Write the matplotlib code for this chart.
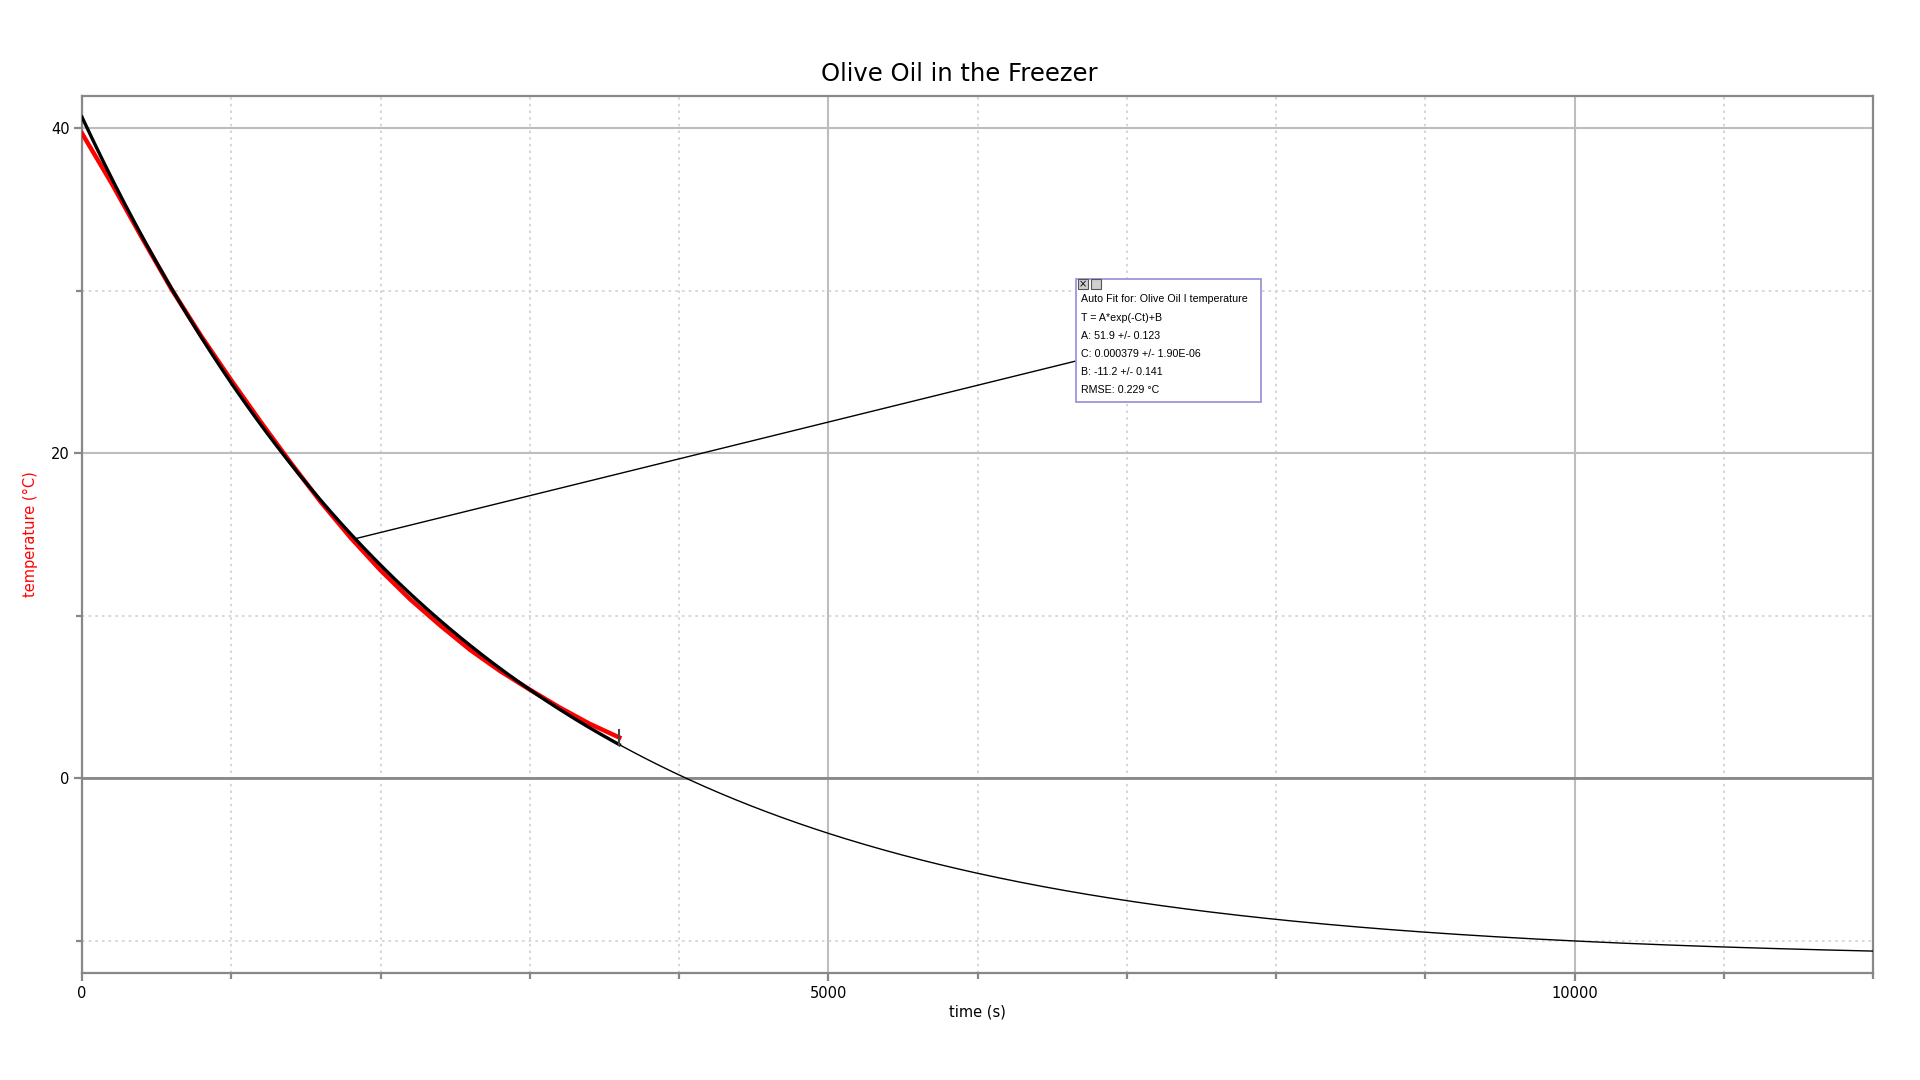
import matplotlib.pyplot as plt
import numpy as np
from matplotlib.patches import Rectangle

time_s = [0, 200, 400, 600, 800, 1000, 1200, 1400, 1600, 1800,
          2000, 2200, 2400, 2600, 2800, 3000, 3200, 3400, 3600]
temp_c = [39.7, 36.6, 33.3, 30.1, 27.2, 24.5, 21.9, 19.4, 17.0, 14.8,
          12.8, 11.0, 9.4, 7.9, 6.6, 5.45, 4.35, 3.35, 2.5]

# auto fit T = A*exp(-Ct)+B
A = 51.9
C = 0.000379
B = -11.2
fit_end = 3600
t_max = 12000
anchor_t = 1830

fit_lines = ["Auto Fit for: Olive Oil I temperature",
             "T = A*exp(-Ct)+B",
             "A: 51.9 +/- 0.123",
             "C: 0.000379 +/- 1.90E-06",
             "B: -11.2 +/- 0.141",
             "RMSE: 0.229 \u00b0C"]


def fit(t):
    return A * np.exp(-C * np.asarray(t, dtype=float)) + B


fig = plt.figure(figsize=(19.2, 10.8), dpi=100)
ax = fig.add_axes([82/1920, 1-973/1080, (1873-82)/1920, (973-96)/1080])

ax.set_xlim(0, t_max)
ax.set_ylim(-12, 42)

# grid
ax.set_xticks([0, 5000, 10000])
ax.set_xticks(np.arange(1000, 12001, 1000), minor=True)
ax.set_yticks([0, 20, 40])
ax.set_yticks([-10, 10, 30], minor=True)
ax.grid(which='major', color='#bdbdbd', lw=1.5, ls='-')
ax.grid(which='minor', color='#d0d0d0', lw=1.2, ls=(0, (1.5, 2.5)))
ax.axhline(0, color='#888888', lw=2, zorder=1)
ax.set_axisbelow(True)

for s in ax.spines.values():
    s.set_color('#888888')
    s.set_linewidth(1.6)

ax.tick_params(which='major', length=6, width=1.6, color='#888888', labelsize=10.5, pad=3)
ax.tick_params(which='minor', length=4, width=1.6, color='#888888')

ax.set_xlabel('time (s)', fontsize=10.5, labelpad=3)
ax.set_ylabel('temperature (\u00b0C)', fontsize=10.5, color='red', labelpad=9)
fig.text(959/1920, 1-74/1080, 'Olive Oil in the Freezer', fontsize=17.5,
         ha='center', va='center')

# data
ax.plot(time_s, temp_c, color='red', lw=3.2, zorder=3)

# fit: thick over the fitted range, thin beyond
t_in = np.linspace(0, fit_end, 200)
t_out = np.linspace(fit_end, t_max, 400)
ax.plot(t_in, fit(t_in), color='black', lw=2.4, zorder=4)
ax.plot(t_out, fit(t_out), color='black', lw=1.0, zorder=4)
ax.plot([fit_end, fit_end], [fit(fit_end), fit(fit_end) + 0.9], color='#444444', lw=1.5, zorder=5)

# annotation box
bx0, bx1 = 1076/1920, 1261/1920
by0, by1 = 1-402/1080, 1-279/1080
fig.patches.append(Rectangle((bx0, by0), bx1-bx0, by1-by0, transform=fig.transFigure,
                             facecolor='white', edgecolor='#9a96d8', lw=1.3, zorder=10))
ax.annotate('', xy=(anchor_t, fit(anchor_t)), xycoords='data',
            xytext=(bx0, 1-361/1080), textcoords='figure fraction',
            arrowprops=dict(arrowstyle='-', color='black', lw=1.0, shrinkA=0, shrinkB=0))

line_y = [299, 318, 336, 354, 372, 390]
for txt, py in zip(fit_lines, line_y):
    fig.text(1081/1920, 1-py/1080, txt, fontsize=7.7, family='Liberation Sans',
             va='center', ha='left', zorder=11)

# little close / minimise icons
for ix, mark in [(1078, '\u00d7'), (1091, '')]:
    fig.patches.append(Rectangle((ix/1920, 1-289/1080), 10/1920, 10/1080, transform=fig.transFigure,
                                 facecolor='#cfcfcf', edgecolor='#555555', lw=0.8, zorder=12))
    if mark:
        fig.text((ix+5)/1920, 1-284/1080, mark, fontsize=7, ha='center', va='center', zorder=13)

fig.savefig('out.png', dpi=100, facecolor='white')
